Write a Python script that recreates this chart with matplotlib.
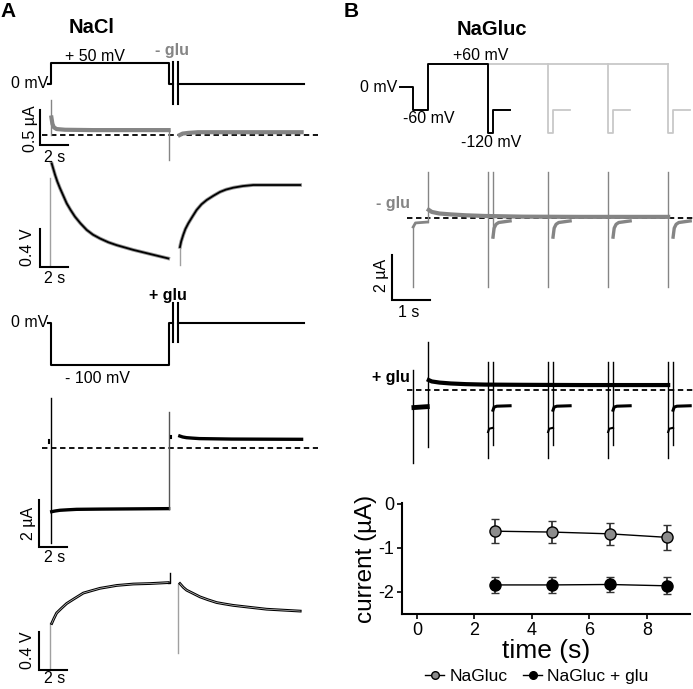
import matplotlib
matplotlib.use("Agg")
import matplotlib.pyplot as plt
from matplotlib.lines import Line2D

plt.rcParams['font.family'] = ['Liberation Sans', 'DejaVu Sans']
plt.rcParams['axes.unicode_minus'] = False

W, H = 693, 689
fig = plt.figure(figsize=(W / 100, H / 100), dpi=100)

# ---------------- data: panel A (NaCl) ----------------
# time in s (0 = step onset); step ends, trace break, trace resumes
A_step_end = 8.4
A_break_t = [8.72, 9.1]
A_resume, A_stop = 9.1, 18.1
A_levels_1 = [0, 50]      # mV, -glu protocol
A_levels_2 = [0, -100]    # mV, +glu protocol

# -glu current (uA), grey
A2_dec_t = [0.03, 0.1, 0.2, 0.4, 1.0, 3.0, 6.0, 8.4]
A2_dec_i = [0.25, 0.16, 0.11, 0.085, 0.075, 0.07, 0.07, 0.07]
A2_on_spike = 0.5
A2_off_spike = -0.36
A2_post_t = [9.2, 9.4, 9.8, 10.5, 12.0, 17.9]
A2_post_i = [0.0, 0.02, 0.03, 0.04, 0.04, 0.04]

# -glu voltage trace (V)
A3_t1 = [0.05, 0.15, 0.29, 0.45, 0.64, 0.85, 1.12, 1.4, 1.71, 2.1, 2.55,
         3.0, 3.5, 4.1, 4.69, 5.88, 7.07, 8.38]
A3_v1 = [1.09, 1.04, 0.97, 0.90, 0.83, 0.76, 0.67, 0.60, 0.53, 0.46, 0.39,
         0.34, 0.30, 0.26, 0.23, 0.18, 0.137, 0.09]
A3_t2 = [9.21, 9.3, 9.45, 9.6, 9.81, 10.1, 10.4, 10.75, 11.12, 11.6, 12.07,
         12.5, 13.02, 13.7, 14.45, 17.8]
A3_v2 = [0.21, 0.27, 0.34, 0.40, 0.46, 0.53, 0.60, 0.66, 0.705, 0.75, 0.79,
         0.815, 0.835, 0.852, 0.863, 0.863]

# +glu current (uA), black
A5_on_spike = [2.13, -4.04]
A5_t1 = [0.05, 0.3, 0.64, 1.2, 1.83, 3.5, 8.4]
A5_i1 = [-2.71, -2.68, -2.65, -2.63, -2.61, -2.6, -2.58]
A5_off_spike = 1.53
A5_t2 = [9.2, 9.4, 9.67, 10.1, 10.6, 12.9, 17.9]
A5_i2 = [0.51, 0.47, 0.44, 0.42, 0.40, 0.38, 0.37]

# +glu voltage trace (V)
A6_t1 = [0.05, 0.2, 0.4, 0.75, 1.12, 1.6, 2.31, 2.9, 3.5, 4.1, 4.69, 5.88,
         7.07, 8.38]
A6_v1 = [0.49, 0.54, 0.60, 0.65, 0.70, 0.745, 0.81, 0.835, 0.86, 0.875, 0.89,
         0.905, 0.91, 0.92]
A6_off_spike = 1.02
A6_t2 = [9.21, 9.45, 9.69, 10.1, 10.64, 11.2, 11.83, 12.4, 13.02, 14.2, 15.4,
         17.8]
A6_v2 = [0.91, 0.87, 0.84, 0.81, 0.77, 0.74, 0.71, 0.695, 0.68, 0.66, 0.64,
         0.62]

# ---------------- data: panel B (NaGluc) ----------------
B_pre = [-0.74, -0.39]          # holding, then prepulse start
B_levels = [0, -60, 60, -120, -60]
B_pulse_t = [1.58, 3.16, 4.74, 6.32]
B_pulse_w = 0.13
B_tail = 0.45

# -glu currents (uA)
Bm_pre_t = [-0.39, -0.33, -0.02]
Bm_pre_i = [-0.4, -0.22, -0.18]
Bm_t = [0.02, 0.1, 0.3, 0.6, 1.0, 1.5, 2.5, 4.0, 6.32]
Bm_i = [0.36, 0.27, 0.2, 0.16, 0.12, 0.09, 0.06, 0.05, 0.05]
Bm_tail_dt = [0.0, 0.03, 0.08, 0.15, 0.45]
Bm_tail_i = [-0.85, -0.45, -0.28, -0.2, -0.13]
Bm_spike = [2.04, -3.07]

# +glu currents (uA)
Bp_pre_t = [-0.37, -0.02]
Bp_pre_i = [-0.78, -0.74]
Bp_t = [0.02, 0.1, 0.3, 0.6, 1.0, 1.5, 2.5, 4.0, 6.32]
Bp_i = [0.44, 0.38, 0.33, 0.29, 0.26, 0.24, 0.23, 0.22, 0.22]
Bp_neg_dt = [0.0, 0.03, 0.13]
Bp_neg_i = [-1.87, -1.72, -1.68]
Bp_tail_dt = [0.0, 0.03, 0.1, 0.45]
Bp_tail_i = [-0.9, -0.76, -0.72, -0.7]
Bp_spike0 = [0.89, -3.24]
Bp_spike1 = [2.13, -2.53]
Bp_spike_p = [1.24, -3.02]
Bp_spike_p2 = [1.24, -2.44]

# summary plot
time_pts = [2.7, 4.7, 6.7, 8.7]
nagluc = [-0.62, -0.64, -0.68, -0.76]
nagluc_err = [0.27, 0.25, 0.25, 0.28]
nagluc_glu = [-1.84, -1.84, -1.83, -1.86]
nagluc_glu_err = [0.18, 0.18, 0.18, 0.19]

GREY = '#858585'
LIGHT = '#c8c8c8'
FS = 11.5


def trace_ax(box, x0, xs, y0, ys):
    l, t, r, b = box
    ax = fig.add_axes([l / W, 1 - b / H, (r - l) / W, (b - t) / H])
    ax.set_xlim((l - x0) / xs, (r - x0) / xs)
    ax.set_ylim((y0 - b) / ys, (y0 - t) / ys)
    ax.axis('off')
    ax.patch.set_alpha(0)
    return ax


def ptext(x, y, s, size=FS, weight='normal', color='k', ha='center',
          va='baseline', rot=0):
    fig.text(x / W, 1 - y / H, s, fontsize=size, fontweight=weight,
             color=color, ha=ha, va=va, rotation=rot)


def scalebar(ax, x, y, dx, dy):
    ax.plot([x, x, x + dx], [y + dy, y, y], color='k', lw=1.5,
            solid_joinstyle='miter', clip_on=False)


def dashed(ax, t0, t1):
    ax.plot([t0, t1], [0, 0], color='k', lw=1.3, ls=(0, (3, 2)))


def breakmark(ax, lo, hi):
    for bt in A_break_t:
        ax.plot([bt, bt], [lo, hi], color='k', lw=1.5)


# ---------- A1: protocol -glu ----------
a1 = trace_ax((0, 40, 340, 112), 51, 14, 84, 0.42)
h0, h1 = A_levels_1
a1.plot([-0.2, 0, 0, A_step_end, A_step_end, A_break_t[0]],
        [h0, h0, h1, h1, h0, h0], color='k', lw=1.5)
a1.plot([A_resume, A_stop], [h0, h0], color='k', lw=1.5)
breakmark(a1, -48, 52)

# ---------- A2: current -glu ----------
a2 = trace_ax((0, 95, 340, 170), 51, 14, 135, 70)
dashed(a2, -0.64, 19.07)
a2.plot([0, 0], [0, A2_on_spike], color=GREY, lw=1)
a2.plot(A2_dec_t, A2_dec_i, color=GREY, lw=3)
a2.plot([A_step_end, A_step_end], [A2_dec_i[-1], A2_off_spike], color=GREY, lw=1)
a2.plot(A2_post_t, A2_post_i, color=GREY, lw=3)
scalebar(a2, -0.79, -0.14, 2, 0.5)

# ---------- A3: voltage trace -glu ----------
a3 = trace_ax((0, 150, 340, 290), 51, 14, 267, 95)
a3.plot([-0.05, -0.05], [0.02, 0.94], color='#a0a0a0', lw=1)
a3.plot(A3_t1, A3_v1, color='#9a9a9a', lw=2.6)
a3.plot(A3_t1, A3_v1, color='k', lw=1.3)
a3.plot([A3_t2[0], A3_t2[0]], [0.02, A3_v2[0]], color='#a0a0a0', lw=1)
a3.plot(A3_t2, A3_v2, color='#9a9a9a', lw=2.6)
a3.plot(A3_t2, A3_v2, color='k', lw=1.3)
scalebar(a3, -0.79, 0, 2, 0.4)

# ---------- A4: protocol +glu ----------
a4 = trace_ax((0, 285, 340, 390), 51, 14, 323, 0.42)
g0, g1 = A_levels_2
a4.plot([-0.2, 0, 0, A_step_end, A_step_end, A_break_t[0]],
        [g0, g0, g1, g1, g0, g0], color='k', lw=1.5)
a4.plot([A_resume, A_stop], [g0, g0], color='k', lw=1.5)
breakmark(a4, -45, 48)

# ---------- A5: current +glu ----------
a5 = trace_ax((0, 390, 340, 565), 51, 14, 448, 23.5)
dashed(a5, -0.64, 19.07)
a5.plot([0, 0], A5_on_spike, color='k', lw=1)
a5.plot([-0.12, -0.12], [0.2, 0.32], color='k', lw=1.5)
a5.plot(A5_t1, A5_i1, color='k', lw=2.4)
a5.plot([A_step_end, A_step_end], [A5_i1[-1], A5_off_spike], color='#555555', lw=1)
a5.plot([8.6, 8.6], [0.42, 0.52], color='k', lw=1.5)
a5.plot(A5_t2, A5_i2, color='k', lw=2.4)
scalebar(a5, -0.86, -4.21, 2, 2)

# ---------- A6: voltage trace +glu ----------
a6 = trace_ax((0, 560, 340, 689), 51, 14, 670, 95)
a6.plot([-0.07, -0.07], [0.014, A6_v1[0]], color='#a0a0a0', lw=1)
a6.plot(A6_t1, A6_v1, color='k', lw=2.0)
a6.plot(A6_t1, A6_v1, color='#c8c8c8', lw=0.5)
a6.plot([A6_t1[-1], 8.5, 8.5], [A6_v1[-1], A6_v1[-1], A6_off_spike], color='k', lw=1)
a6.plot([9.1, 9.1], [A6_v2[0], 0.18], color='#a0a0a0', lw=1)
a6.plot(A6_t2, A6_v2, color='k', lw=2.0)
a6.plot(A6_t2, A6_v2, color='#c8c8c8', lw=0.5)
scalebar(a6, -0.86, 0, 2, 0.4)

# ---------- B1: protocol ----------
b1 = trace_ax((340, 40, 693, 160), 428, 38, 87, 0.38)
v_hold, v_pre, v_test, v_neg, v_tail = B_levels
for tp in B_pulse_t[1:]:
    b1.plot([tp, tp, tp + B_pulse_w, tp + B_pulse_w, tp + B_pulse_w + B_tail],
            [v_test, v_neg, v_neg, v_tail, v_tail], color=LIGHT, lw=1.3)
b1.plot([B_pulse_t[0], B_pulse_t[-1]], [v_test, v_test], color=LIGHT, lw=1.3)
tp0 = B_pulse_t[0]
b1.plot([B_pre[0], B_pre[1], B_pre[1], 0, 0, tp0, tp0, tp0 + B_pulse_w,
         tp0 + B_pulse_w, tp0 + B_pulse_w + B_tail],
        [v_hold, v_hold, v_pre, v_pre, v_test, v_test, v_neg, v_neg, v_tail, v_tail],
        color='k', lw=1.4)

# ---------- B2: current -glu ----------
b2 = trace_ax((340, 160, 693, 320), 428, 38, 218, 22.5)
dashed(b2, -0.55, 6.97)
b2.plot([B_pre[1], B_pre[1]], [Bm_pre_i[0], Bm_spike[1]], color=GREY, lw=1)
b2.plot(Bm_pre_t, Bm_pre_i, color=GREY, lw=2)
b2.plot([0, 0], [Bm_pre_i[-1], Bm_spike[0]], color=GREY, lw=1)
b2.plot(Bm_t, Bm_i, color=GREY, lw=3)
for k, tp in enumerate(B_pulse_t):
    b2.plot([tp, tp], Bm_spike, color=GREY, lw=1)
    if k == 0:
        b2.plot([tp + B_pulse_w] * 2, [Bm_spike[0], Bm_tail_i[0]], color=GREY, lw=1)
    b2.plot([tp + B_pulse_w + d for d in Bm_tail_dt], Bm_tail_i, color=GREY, lw=2.4)
scalebar(b2, -0.947, -3.64, 1, 2)

# ---------- B3: current +glu ----------
b3 = trace_ax((340, 330, 693, 470), 428, 38, 390, 22.5)
dashed(b3, -0.55, 6.97)
b3.plot([B_pre[1], B_pre[1]], Bp_spike0, color='k', lw=1)
b3.plot(Bp_pre_t, Bp_pre_i, color='k', lw=3.5)
b3.plot([0, 0], Bp_spike1, color='k', lw=1)
b3.plot(Bp_t, Bp_i, color='k', lw=3)
for tp in B_pulse_t:
    b3.plot([tp, tp], Bp_spike_p, color='k', lw=1)
    b3.plot([tp + B_pulse_w] * 2, Bp_spike_p2, color='k', lw=1)
    b3.plot([tp + d for d in Bp_neg_dt], Bp_neg_i, color='k', lw=1.5)
    b3.plot([tp + B_pulse_w + d for d in Bp_tail_dt], Bp_tail_i, color='k', lw=2.2)

# ---------- B4: summary ----------
ax = fig.add_axes([402 / W, 1 - 614 / H, 288 / W, 111 / H])
ax.errorbar(time_pts, nagluc, yerr=nagluc_err, color='k', lw=1, ecolor='#333333',
            elinewidth=1.3, capsize=3, capthick=1.3, marker='o', ms=8,
            mfc='#8c8c8c', mec='k', mew=1, label='NaGluc', zorder=3)
ax.errorbar(time_pts, nagluc_glu, yerr=nagluc_glu_err, color='k', lw=1,
            ecolor='#333333', elinewidth=1.3, capsize=3, capthick=1.3,
            marker='o', ms=8, mfc='k', mec='k', mew=1, label='NaGluc + glu',
            zorder=3)
ax.set_xlim(-0.52, 9.5)
ax.set_ylim(-2.5, 0.02)
ax.set_xticks([0, 2, 4, 6, 8])
ax.set_yticks([0, -1, -2])
for s in ['top', 'right']:
    ax.spines[s].set_visible(False)
for s in ['left', 'bottom']:
    ax.spines[s].set_linewidth(1.5)
ax.tick_params(direction='out', length=3.5, width=1.2, labelsize=13, pad=2)
ax.set_xlabel('time (s)', fontsize=19, labelpad=0)
ax.set_ylabel('current (µA)', fontsize=17.5, labelpad=1)
ax.patch.set_alpha(0)

h1 = Line2D([], [], color='k', lw=1, marker='o', ms=5.5, mfc='#8c8c8c', mec='k')
h2 = Line2D([], [], color='k', lw=1, marker='o', ms=5.5, mfc='k', mec='k')
fig.legend([h1, h2], ['NaGluc', 'NaGluc + glu'], loc='center',
           bbox_to_anchor=(537 / W, 1 - 676 / H), ncol=2, frameon=False,
           fontsize=12.5, handlelength=1.1, handletextpad=0.3, columnspacing=0.9)

# ---------- text ----------
ptext(8, 17, 'A', size=15, weight='bold')
ptext(92, 33, 'NaCl', size=14.5, weight='bold')
ptext(95, 61, '+ 50 mV')
ptext(172, 55, '- glu', weight='bold', color=GREY)
ptext(48, 88, '0 mV', ha='right')
ptext(30, 129, '0.5 µA', rot=90, va='center')
ptext(55, 162, '2 s')
ptext(28, 247, '0.4 V', rot=90, va='center')
ptext(55, 283, '2 s')
ptext(168, 300, '+ glu', weight='bold')
ptext(48, 327, '0 mV', ha='right')
ptext(97, 383, '- 100 mV')
ptext(28, 523, '2 µA', rot=90, va='center')
ptext(55, 562, '2 s')
ptext(28, 650, '0.4 V', rot=90, va='center')
ptext(55, 683, '2 s')

ptext(351, 17, 'B', size=15, weight='bold')
ptext(492, 35, 'NaGluc', size=14.5, weight='bold')
ptext(481, 60, '+60 mV')
ptext(397, 92, '0 mV', ha='right')
ptext(429, 123, '-60 mV')
ptext(491, 147, '-120 mV')
ptext(393, 208, '- glu', weight='bold', color=GREY)
ptext(382, 275, '2 µA', rot=90, va='center')
ptext(409, 317, '1 s')
ptext(391, 382, '+ glu', weight='bold')

fig.savefig('out.png', dpi=100)
